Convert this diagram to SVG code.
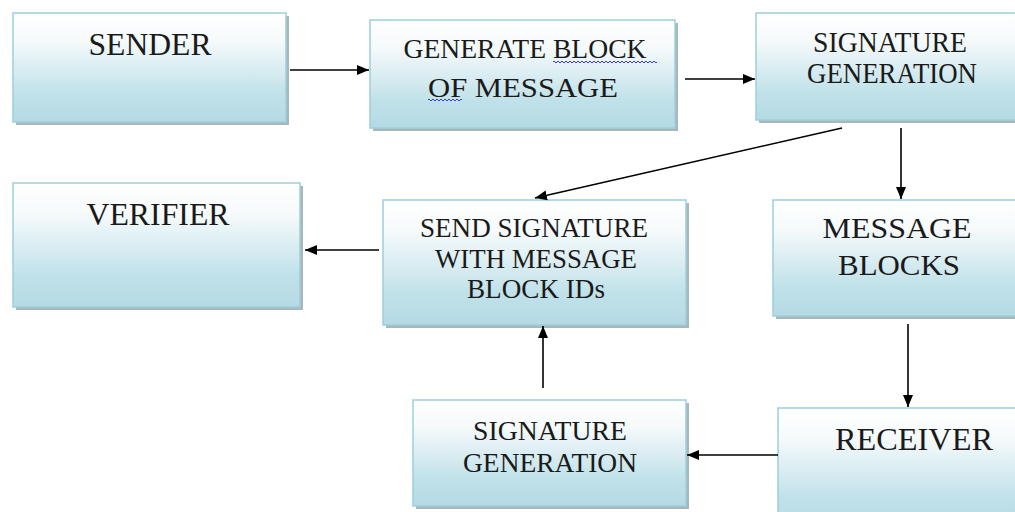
<svg xmlns="http://www.w3.org/2000/svg" width="1015" height="512" viewBox="0 0 1015 512">
  <defs>
    <linearGradient id="boxFill" x1="0" y1="0" x2="0" y2="1">
      <stop offset="0" stop-color="#ffffff"/>
      <stop offset="0.25" stop-color="#f6fafb"/>
      <stop offset="0.75" stop-color="#c0e1e9"/>
      <stop offset="1" stop-color="#b5dae4"/>
    </linearGradient>
    <marker id="arrow" markerUnits="userSpaceOnUse" markerWidth="13" markerHeight="11" refX="12" refY="5.5" orient="auto">
      <path d="M0,0.5 L12,5.5 L0,10.5 z" fill="#000"/>
    </marker>
    <style>
      .shadow { fill: #8c9ea4; opacity: 0.75; }
      .box { fill: url(#boxFill); stroke: #9ccfdc; stroke-width: 1.5; }
      .lbl { font-family: 'Liberation Serif', 'DejaVu Serif', serif; fill: #1a1a1a; text-anchor: middle; }
      .conn { stroke: #000; stroke-width: 1.6; fill: none; marker-end: url(#arrow); }
      .squig { stroke: #3b3bd9; stroke-width: 1; fill: none; }
    </style>
  </defs>

  <rect width="1015" height="512" fill="#ffffff"/>

  <g id="sender">
    <rect class="shadow" x="16" y="16" width="273" height="109"/>
    <rect class="box" x="13" y="13" width="273" height="109"/>
    <text class="lbl" font-family="Liberation Serif, serif" x="150" y="55" font-size="32" textLength="123" lengthAdjust="spacingAndGlyphs">SENDER</text>
  </g>

  <g id="generate-block">
    <rect class="shadow" x="373" y="23" width="305" height="108"/>
    <rect class="box" x="370" y="20" width="305" height="108"/>
    <text class="lbl" font-family="Liberation Serif, serif" x="525" y="58" font-size="27" textLength="243" lengthAdjust="spacingAndGlyphs">GENERATE BLOCK</text>
    <text class="lbl" font-family="Liberation Serif, serif" x="523" y="97" font-size="27" textLength="190" lengthAdjust="spacingAndGlyphs">OF MESSAGE</text>
    <path class="squig" d="M553,62 q1,-2 2,0 t2,0 t2,0 t2,0 t2,0 t2,0 t2,0 t2,0 t2,0 t2,0 t2,0 t2,0 t2,0 t2,0 t2,0 t2,0 t2,0 t2,0 t2,0 t2,0 t2,0 t2,0 t2,0 t2,0 t2,0 t2,0 t2,0 t2,0 t2,0 t2,0 t2,0 t2,0 t2,0 t2,0 t2,0 t2,0 t2,0 t2,0 t2,0 t2,0 t2,0 t2,0 t2,0 t2,0 t2,0 t2,0 t2,0 t2,0 t2,0 t2,0 t2,0 t2,0"/>
    <path class="squig" d="M428,100 q1,-2 2,0 t2,0 t2,0 t2,0 t2,0 t2,0 t2,0 t2,0 t2,0 t2,0 t2,0 t2,0 t2,0 t2,0 t2,0 t2,0 t2,0"/>
  </g>

  <g id="signature-generation-top">
    <rect class="shadow" x="759" y="16" width="270" height="107"/>
    <rect class="box" x="756" y="13" width="270" height="107"/>
    <text class="lbl" font-family="Liberation Serif, serif" x="890" y="52" font-size="29" textLength="154" lengthAdjust="spacingAndGlyphs">SIGNATURE</text>
    <text class="lbl" font-family="Liberation Serif, serif" x="892" y="83" font-size="29" textLength="170" lengthAdjust="spacingAndGlyphs">GENERATION</text>
  </g>

  <g id="verifier">
    <rect class="shadow" x="16" y="186" width="287" height="124"/>
    <rect class="box" x="13" y="183" width="287" height="124"/>
    <text class="lbl" font-family="Liberation Serif, serif" x="158" y="225" font-size="32" textLength="143" lengthAdjust="spacingAndGlyphs">VERIFIER</text>
  </g>

  <g id="send-signature">
    <rect class="shadow" x="386" y="203" width="303" height="125"/>
    <rect class="box" x="383" y="200" width="303" height="125"/>
    <text class="lbl" font-family="Liberation Serif, serif" x="534" y="237" font-size="27" textLength="228" lengthAdjust="spacingAndGlyphs">SEND SIGNATURE</text>
    <text class="lbl" font-family="Liberation Serif, serif" x="536" y="268" font-size="27" textLength="202" lengthAdjust="spacingAndGlyphs">WITH MESSAGE</text>
    <text class="lbl" font-family="Liberation Serif, serif" x="536" y="298" font-size="27" textLength="138" lengthAdjust="spacingAndGlyphs">BLOCK IDs</text>
  </g>

  <g id="message-blocks">
    <rect class="shadow" x="776" y="203" width="250" height="116"/>
    <rect class="box" x="773" y="200" width="250" height="116"/>
    <text class="lbl" font-family="Liberation Serif, serif" x="897" y="238" font-size="30" textLength="149" lengthAdjust="spacingAndGlyphs">MESSAGE</text>
    <text class="lbl" font-family="Liberation Serif, serif" x="899" y="275" font-size="30" textLength="122" lengthAdjust="spacingAndGlyphs">BLOCKS</text>
  </g>

  <g id="signature-generation-bottom">
    <rect class="shadow" x="416" y="403" width="273" height="106"/>
    <rect class="box" x="413" y="400" width="273" height="106"/>
    <text class="lbl" font-family="Liberation Serif, serif" x="550" y="440" font-size="27" textLength="154" lengthAdjust="spacingAndGlyphs">SIGNATURE</text>
    <text class="lbl" font-family="Liberation Serif, serif" x="550" y="472" font-size="27" textLength="174" lengthAdjust="spacingAndGlyphs">GENERATION</text>
  </g>

  <g id="receiver">
    <rect class="shadow" x="781" y="411" width="250" height="120"/>
    <rect class="box" x="778" y="408" width="250" height="120"/>
    <text class="lbl" font-family="Liberation Serif, serif" x="914" y="450" font-size="32" textLength="158" lengthAdjust="spacingAndGlyphs">RECEIVER</text>
  </g>

  <g id="connectors">
    <line class="conn" x1="290" y1="70" x2="369" y2="70"/>
    <line class="conn" x1="685" y1="79" x2="755" y2="79"/>
    <line class="conn" x1="842" y1="128" x2="535" y2="198"/>
    <line class="conn" x1="901" y1="128" x2="901" y2="199"/>
    <line class="conn" x1="908" y1="324" x2="908" y2="407"/>
    <line class="conn" x1="778" y1="455" x2="687" y2="455"/>
    <line class="conn" x1="543" y1="388" x2="543" y2="326"/>
    <line class="conn" x1="379" y1="250" x2="305" y2="250"/>
  </g>
</svg>
